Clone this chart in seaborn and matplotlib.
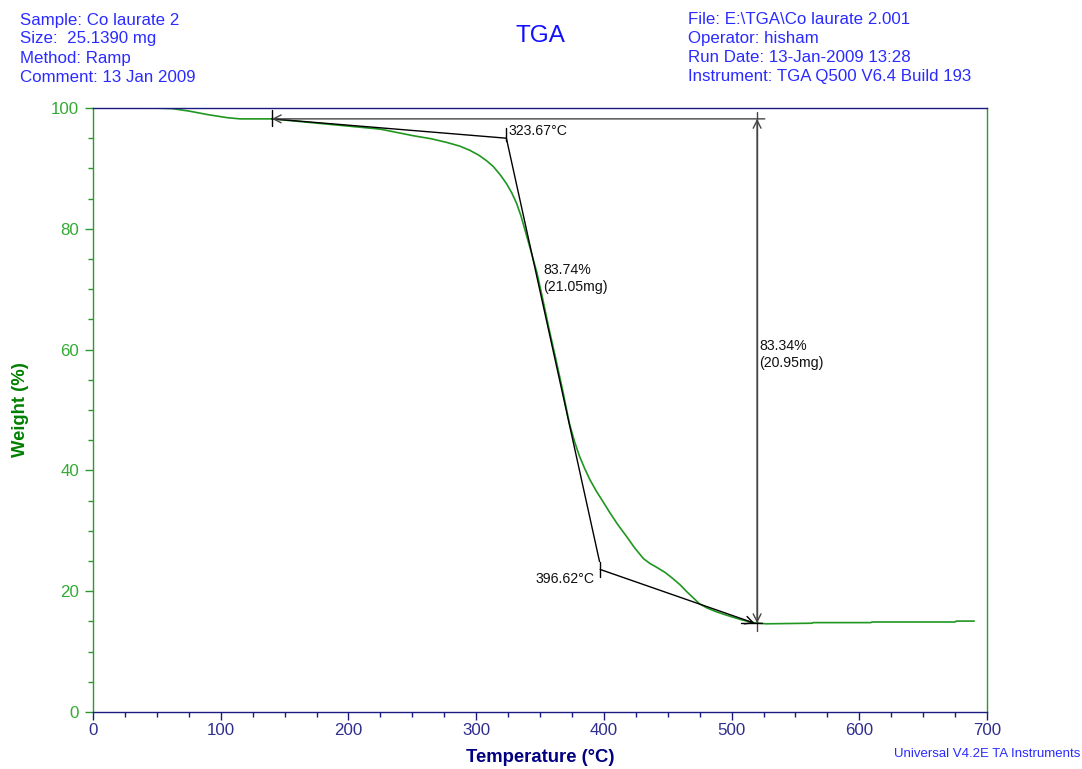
import seaborn as sns
import matplotlib.pyplot as plt
import pandas as pd
from matplotlib.ticker import MultipleLocator

# TGA curve (temperature in °C, weight in %)
temperature = [46, 62, 75, 90, 105, 115, 140, 160, 190, 225, 251, 265, 277, 287,
               295, 302, 308, 313.5, 319, 324, 328, 331.7, 335, 338, 342, 347.5,
               352, 357, 362, 367.5, 373, 377, 381, 385, 389, 394, 400, 405, 411,
               418, 424, 431, 436, 441, 448, 454, 460, 465, 470, 475, 481, 488,
               495, 501, 509, 517, 527, 563, 564, 609, 610, 675, 676, 690]
weight = [100.0, 99.9, 99.5, 98.9, 98.4, 98.2, 98.2, 97.8, 97.2, 96.5, 95.4, 94.9,
          94.3, 93.7, 93.0, 92.2, 91.3, 90.3, 88.9, 87.4, 85.9, 84.2, 82.2, 80.0,
          77.0, 72.8, 68.5, 63.5, 58.8, 53.5, 47.8, 44.8, 42.3, 40.3, 38.5, 36.6,
          34.6, 32.9, 31.0, 29.0, 27.2, 25.4, 24.6, 24.0, 23.1, 22.1, 21.0, 19.9,
          18.9, 17.9, 17.2, 16.6, 16.1, 15.7, 15.2, 14.8, 14.6, 14.7, 14.8, 14.8,
          14.9, 14.9, 15.05, 15.05]

# analysis results
baseline_T, baseline_W = 140, 98.2
onset_T, onset_W = 323.67, 95.0
endset_T, endset_W = 396.62, 23.6
step_T, residue_W = 520, 14.7
step_label = "83.74%\n(21.05mg)"
total_label = "83.34%\n(20.95mg)"

header_left = ["Sample: Co laurate 2", "Size:  25.1390 mg", "Method: Ramp",
               "Comment: 13 Jan 2009"]
header_right = ["File: E:\\TGA\\Co laurate 2.001", "Operator: hisham",
                "Run Date: 13-Jan-2009 13:28", "Instrument: TGA Q500 V6.4 Build 193"]

df = pd.DataFrame({"Temperature": temperature, "Weight": weight})

sns.set_style("white")
plt.rcParams["font.family"] = ["Liberation Sans", "DejaVu Sans"]

W, H = 1082, 769
fig = plt.figure(figsize=(W / 100, H / 100), dpi=100)
ax = fig.add_axes([93 / W, 1 - 712 / H, (987 - 93) / W, (712 - 108) / H])

navy = "#1a1a80"
green = "#2a9a2a"
blue = "#2b2bff"

sns.lineplot(data=df, x="Temperature", y="Weight", ax=ax, color="#1f961f",
             linewidth=1.2, estimator=None, sort=False)

ax.set_xlim(0, 700)
ax.set_ylim(0, 100)
ax.xaxis.set_major_locator(MultipleLocator(100))
ax.xaxis.set_minor_locator(MultipleLocator(25))
ax.yaxis.set_major_locator(MultipleLocator(20))
ax.yaxis.set_minor_locator(MultipleLocator(5))
ax.tick_params(axis="x", which="major", direction="out", length=6, width=1,
               color=navy, labelcolor="#2e2e90", labelsize=12.2, pad=2,
               bottom=True)
ax.tick_params(axis="x", which="minor", direction="out", length=3.6, width=1,
               color=navy, bottom=True)
ax.tick_params(axis="y", which="major", direction="out", length=6, width=1,
               color=green, labelcolor="#33aa33", labelsize=12.2, pad=4,
               left=True)
ax.tick_params(axis="y", which="minor", direction="out", length=3.6, width=1,
               color=green, left=True)
for side in ("top", "bottom"):
    ax.spines[side].set_color(navy)
    ax.spines[side].set_linewidth(1)
for side in ("left", "right"):
    ax.spines[side].set_color(green)
    ax.spines[side].set_linewidth(1)
ax.set_xlabel("")
ax.set_ylabel("")

# tangent / step analysis overlays
line_kw = dict(color="black", linewidth=1)
ax.plot([baseline_T, onset_T], [baseline_W, onset_W], **line_kw)
ax.plot([onset_T, endset_T], [onset_W, endset_W + 1.3], **line_kw)
ax.plot([baseline_T, baseline_T], [97.0, 99.6], **line_kw)
ax.plot([onset_T, onset_T], [94.5, 96.7], **line_kw)
ax.plot([endset_T, endset_T], [22.3, 24.9], **line_kw)
ax.annotate("", xy=(step_T - 2, residue_W), xytext=(endset_T + 0.5, endset_W),
            arrowprops=dict(arrowstyle="->", color="black", lw=1,
                            mutation_scale=14, shrinkA=0, shrinkB=0))
ax.annotate("", xy=(baseline_T, baseline_W), xytext=(step_T + 6, baseline_W),
            arrowprops=dict(arrowstyle="->", color="#444444", lw=1,
                            mutation_scale=14, shrinkA=0, shrinkB=0))
ax.plot([step_T, step_T], [residue_W - 1.3, baseline_W + 1.1], color="#444444",
        linewidth=1)
ax.annotate("", xy=(step_T, baseline_W), xytext=(step_T, residue_W),
            arrowprops=dict(arrowstyle="<->", color="#444444", lw=1,
                            mutation_scale=14, shrinkA=0, shrinkB=0))
ax.plot([step_T - 13, step_T + 4], [residue_W, residue_W], color="black",
        linewidth=1)

ann_kw = dict(fontsize=10.2, color="#111111")
ax.text(onset_T + 1.5, 96.2, f"{onset_T:.2f}°C", ha="left", va="center", **ann_kw)
ax.text(endset_T - 4, 22.0, f"{endset_T:.2f}°C", ha="right", va="center", **ann_kw)
ax.text(352.4, 74.4, step_label, ha="left", va="top", linespacing=1.3, **ann_kw)
ax.text(step_T + 1.5, 61.8, total_label, ha="left", va="top", linespacing=1.3,
        **ann_kw)

# header and labels
for i, s in enumerate(header_left):
    fig.text(20 / W, 1 - (20 + 19 * i) / H, s, ha="left", va="center",
             fontsize=12.2, color=blue)
for i, s in enumerate(header_right):
    fig.text(688 / W, 1 - (20 + 19 * i) / H, s, ha="left", va="center",
             fontsize=12.2, color=blue)
fig.text(540 / W, 1 - 36 / H, "TGA", ha="center", va="center", fontsize=17.5,
         color="#1010ff")
fig.text(540 / W, 1 - 757 / H, "Temperature (°C)", ha="center", va="center",
         fontsize=13.3, fontweight="bold", color="#000080")
fig.text(21 / W, 1 - 410 / H, "Weight (%)", ha="center", va="center",
         rotation=90, fontsize=13.3, fontweight="bold", color="#008000")
fig.text(1080 / W, 1 - 754 / H, "Universal V4.2E TA Instruments", ha="right",
         va="center", fontsize=9.5, color=blue)

fig.savefig("out.png", dpi=100)
plt.close(fig)
